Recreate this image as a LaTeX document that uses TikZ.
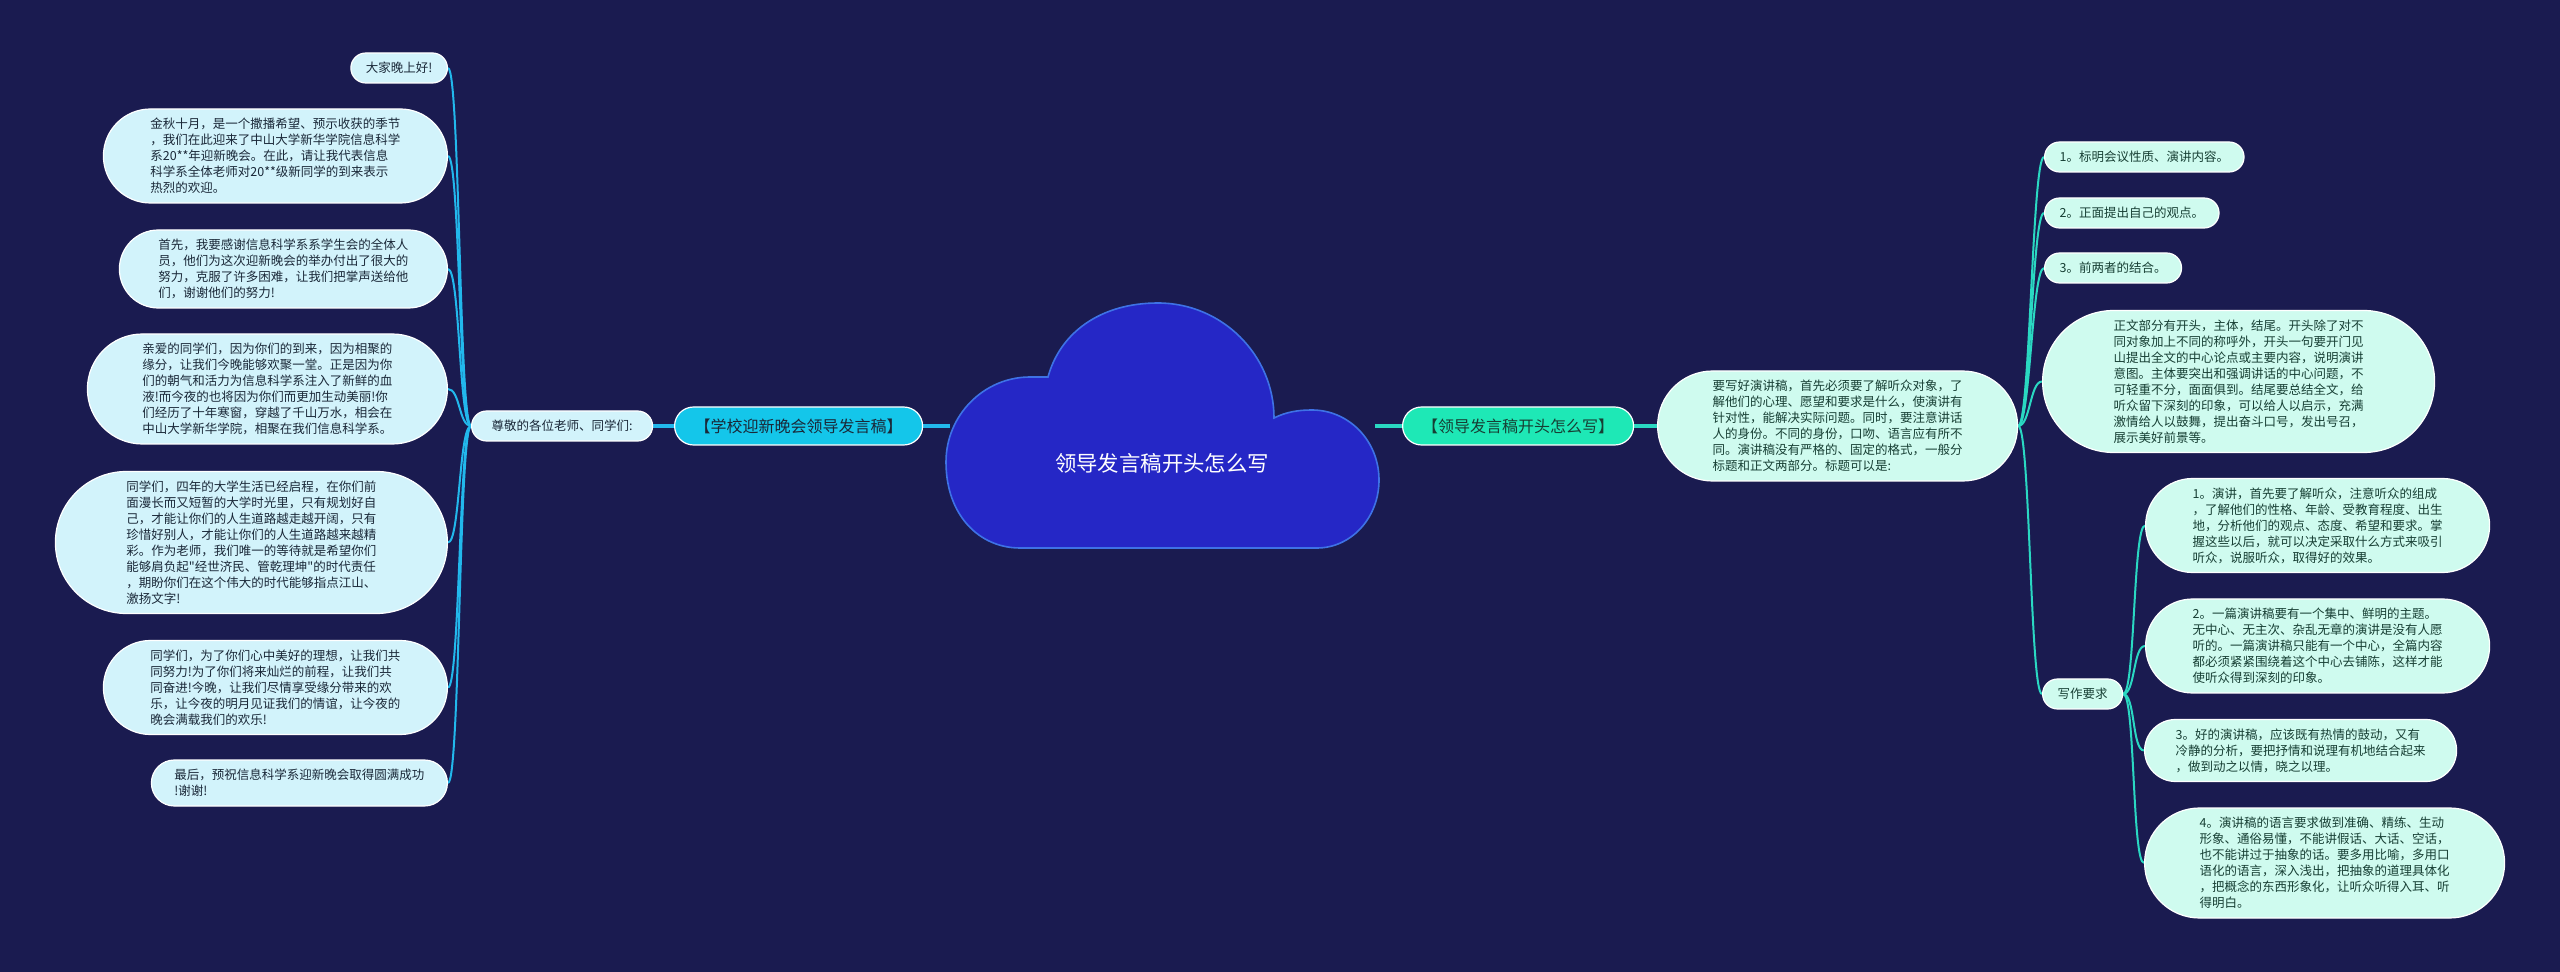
\documentclass[tikz,border=0pt]{standalone}
\usepackage{fontspec}
\newfontfamily\cjk{Noto Sans CJK SC}
\usetikzlibrary{positioning}
\definecolor{bgc}{HTML}{1A1B50}
\definecolor{cloudc}{HTML}{2527C6}
\definecolor{cloudb}{HTML}{3E72E6}
\definecolor{lmainc}{HTML}{14C6EA}
\definecolor{rmainc}{HTML}{1EE8B6}
\definecolor{lfill}{HTML}{D2F3FB}
\definecolor{rfill}{HTML}{CFFBEF}
\definecolor{ltext}{HTML}{1A2838}
\definecolor{rtext}{HTML}{173F34}
\definecolor{lcon}{HTML}{22B8EC}
\definecolor{rcon}{HTML}{2AD8C2}
\pgfdeclarelayer{back}
\pgfdeclarelayer{conn}
\pgfsetlayers{back,conn,main}
\begin{document}
\begin{tikzpicture}[x=0.5pt,y=-0.5pt,
  leafbase/.style={draw=white, line width=0.6pt, font=\fontsize{6.25pt}{8pt}\selectfont\cjk, align=left, inner ysep=0pt},
  lleaf/.style={leafbase, fill=lfill, text=ltext, minimum height={(8*#1+7)*1pt}, inner xsep={(4*#1+3.5)*1pt}, rounded corners={(4*#1+3.5)*1pt}},
  rleaf/.style={leafbase, fill=rfill, text=rtext, minimum height={(8*#1+7)*1pt}, inner xsep={(4*#1+3.5)*1pt}, rounded corners={(4*#1+3.5)*1pt}},
  mainbr/.style={draw=white, line width=0.6pt, font=\fontsize{8pt}{9pt}\selectfont\cjk, minimum height=19pt, rounded corners=9.5pt, inner sep=0pt},
  lthin/.style={draw=lcon, line width=1pt},
  rthin/.style={draw=rcon, line width=1pt},
  lthick/.style={draw=lcon, line width=2.2pt},
  rthick/.style={draw=rcon, line width=2.2pt}]
\useasboundingbox (0,0) rectangle (2560,972);
\begin{pgfonlayer}{back}
\fill[bgc] (0,0) rectangle (2560,972);
\end{pgfonlayer}

% cloud
\filldraw[fill=cloudc, draw=cloudb, line width=0.8pt]
 (1020,548) .. controls (979,548) and (946,515) .. (946,462)
 .. controls (946,415) and (984,377) .. (1030,377) -- (1048,377)
 .. controls (1060,333) and (1100,303) .. (1158,303)
 .. controls (1222,303) and (1274,355) .. (1274,418)
 .. controls (1286,412) and (1298,410) .. (1312,410)
 .. controls (1349,410) and (1379,441) .. (1379,480)
 .. controls (1379,518) and (1351,548) .. (1317,548) -- cycle;
\node[text=white, font=\fontsize{10.7pt}{12pt}\selectfont\cjk] (root) at (1162,463) {领导发言稿开头怎么写};
\coordinate (cloudL) at (950,426);
\coordinate (cloudR) at (1375,426);

% left branch
\node[mainbr, fill=lmainc, text=ltext, minimum width=124pt, anchor=west] (lmain) at (674,426) {【学校迎新晚会领导发言稿】};
\node[leafbase, fill=lfill, text=ltext, minimum height=15pt, minimum width=90.5pt, rounded corners=7.5pt, anchor=west] (greet) at (471,426) {尊敬的各位老师、同学们:};

\node[lleaf=1, anchor=east] (l1) at (448,68) {大家晚上好!};
\node[lleaf=5, anchor=east] (l2) at (448,156) {金秋十月，是一个撒播希望、预示收获的季节\\，我们在此迎来了中山大学新华学院信息科学\\系20**年迎新晚会。在此，请让我代表信息\\科学系全体老师对20**级新同学的到来表示\\热烈的欢迎。};
\node[lleaf=4, anchor=east] (l3) at (448,269) {首先，我要感谢信息科学系系学生会的全体人\\员，他们为这次迎新晚会的举办付出了很大的\\努力，克服了许多困难，让我们把掌声送给他\\们，谢谢他们的努力!};
\node[lleaf=6, anchor=east] (l4) at (448,389) {亲爱的同学们，因为你们的到来，因为相聚的\\缘分，让我们今晚能够欢聚一堂。正是因为你\\们的朝气和活力为信息科学系注入了新鲜的血\\液!而今夜的也将因为你们而更加生动美丽!你\\们经历了十年寒窗，穿越了千山万水，相会在\\中山大学新华学院，相聚在我们信息科学系。};
\node[lleaf=8, anchor=east] (l5) at (448,542.5) {同学们，四年的大学生活已经启程，在你们前\\面漫长而又短暂的大学时光里，只有规划好自\\己，才能让你们的人生道路越走越开阔，只有\\珍惜好别人，才能让你们的人生道路越来越精\\彩。作为老师，我们唯一的等待就是希望你们\\能够肩负起"经世济民、管乾理坤"的时代责任\\，期盼你们在这个伟大的时代能够指点江山、\\激扬文字!};
\node[lleaf=5, anchor=east] (l6) at (448,687.5) {同学们，为了你们心中美好的理想，让我们共\\同努力!为了你们将来灿烂的前程，让我们共\\同奋进!今晚，让我们尽情享受缘分带来的欢\\乐，让今夜的明月见证我们的情谊，让今夜的\\晚会满载我们的欢乐!};
\node[lleaf=2, anchor=east] (l7) at (448,783) {最后，预祝信息科学系迎新晚会取得圆满成功\\!谢谢!};

% right branch
\node[mainbr, fill=rmainc, text=rtext, minimum width=115.5pt, anchor=west] (rmain) at (1402,426) {【领导发言稿开头怎么写】};
\node[rleaf=6, anchor=west] (yao) at (1657,426) {要写好演讲稿，首先必须要了解听众对象，了\\解他们的心理、愿望和要求是什么，使演讲有\\针对性，能解决实际问题。同时，要注意讲话\\人的身份。不同的身份，口吻、语言应有所不\\同。演讲稿没有严格的、固定的格式，一般分\\标题和正文两部分。标题可以是:};
\node[rleaf=1, anchor=west] (r1) at (2044,157) {1。标明会议性质、演讲内容。};
\node[rleaf=1, anchor=west] (r2) at (2044,213) {2。正面提出自己的观点。};
\node[rleaf=1, anchor=west] (r3) at (2044,268) {3。前两者的结合。};
\node[rleaf=8, anchor=west] (zw) at (2042,381.5) {正文部分有开头，主体，结尾。开头除了对不\\同对象加上不同的称呼外，开头一句要开门见\\山提出全文的中心论点或主要内容，说明演讲\\意图。主体要突出和强调讲话的中心问题，不\\可轻重不分，面面俱到。结尾要总结全文，给\\听众留下深刻的印象，可以给人以启示，充满\\激情给人以鼓舞，提出奋斗口号，发出号召，\\展示美好前景等。};
\node[rleaf=1, anchor=west] (xz) at (2042,694) {写作要求};
\node[rleaf=5, anchor=west] (w1) at (2145,525.5) {1。演讲，首先要了解听众，注意听众的组成\\，了解他们的性格、年龄、受教育程度、出生\\地，分析他们的观点、态度、希望和要求。掌\\握这些以后，就可以决定采取什么方式来吸引\\听众，说服听众，取得好的效果。};
\node[rleaf=5, anchor=west] (w2) at (2145,646) {2。一篇演讲稿要有一个集中、鲜明的主题。\\无中心、无主次、杂乱无章的演讲是没有人愿\\听的。一篇演讲稿只能有一个中心，全篇内容\\都必须紧紧围绕着这个中心去铺陈，这样才能\\使听众得到深刻的印象。};
\node[rleaf=3, anchor=west] (w3) at (2144,750.5) {3。好的演讲稿，应该既有热情的鼓动，又有\\冷静的分析，要把抒情和说理有机地结合起来\\，做到动之以情，晓之以理。};
\node[rleaf=6, anchor=west] (w4) at (2144,863) {4。演讲稿的语言要求做到准确、精练、生动\\形象、通俗易懂，不能讲假话、大话、空话，\\也不能讲过于抽象的话。要多用比喻，多用口\\语化的语言，深入浅出，把抽象的道理具体化\\，把概念的东西形象化，让听众听得入耳、听\\得明白。};

% connectors
\begin{pgfonlayer}{conn}
\draw[lthick] (cloudL) -- (lmain.east);
\draw[lthick] (lmain.west) -- (greet.east);
\foreach \n in {l1,l2,l3,l4,l5,l6,l7}
  \draw[lthin] (greet.west) .. controls +(-12,0) and +(12,0) .. (\n.east);
\draw[rthick] (cloudR) -- (rmain.west);
\draw[rthick] (rmain.east) -- (yao.west);
\foreach \n in {r1,r2,r3,zw,xz}
  \draw[rthin] (yao.east) .. controls +(12,0) and +(-12,0) .. (\n.west);
\foreach \n in {w1,w2,w3,w4}
  \draw[rthin] (xz.east) .. controls +(12,0) and +(-12,0) .. (\n.west);
\end{pgfonlayer}
\end{tikzpicture}
\end{document}
